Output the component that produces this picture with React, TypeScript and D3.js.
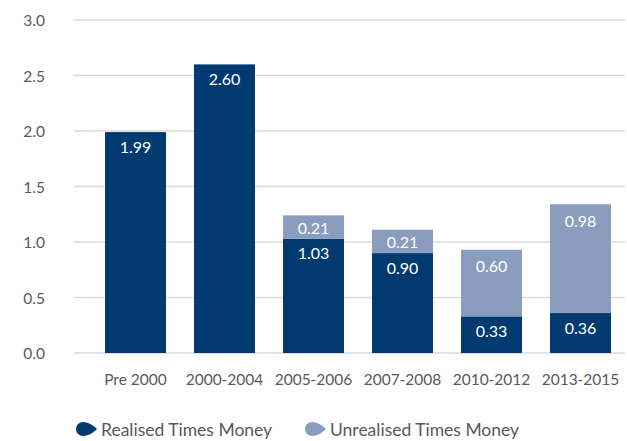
import React from "react";
import * as d3 from "d3";

const categories = ["Pre 2000", "2000-2004", "2005-2006", "2007-2008", "2010-2012", "2013-2015"];
const realised = [1.99, 2.6, 1.03, 0.9, 0.33, 0.36];
const unrealised = [0, 0, 0.21, 0.21, 0.6, 0.98];
const yTicks = [0, 0.5, 1.0, 1.5, 2.0, 2.5, 3.0];
const seriesNames = ["Realised Times Money", "Unrealised Times Money"];

const W = 627;
const H = 441;
const DARK = "#003a70";
const LIGHT = "#8a9dbf";
const FONT = "Lato, 'Open Sans', sans-serif";

export default function App() {
  const y = d3.scaleLinear().domain([0, 3]).range([353, 20]);
  const x = d3.scaleBand().domain(categories).range([91, 625]).paddingInner(0.315).paddingOuter(0.1575);
  const gridX1 = 74;
  const gridX2 = 625;
  const fmt = d3.format(".2f");

  const marker = (cx: number, cy: number, color: string) => {
    const p = `M ${cx - 3} ${cy - 7} C ${cx + 3} ${cy - 7} ${cx + 8} ${cy - 3} ${cx + 11} ${cy} C ${cx + 8} ${cy + 3} ${cx + 3} ${cy + 7} ${cx - 3} ${cy + 7} A 7 7 0 0 1 ${cx - 3} ${cy - 7} Z`;
    return <path d={p} fill={color} />;
  };

  return (
    <svg width={W} height={H} style={{ position: "absolute", left: 0, top: 0, background: "#fff" }} fontFamily={FONT}>
      {yTicks.map((t) => (
        <g key={t}>
          <line x1={gridX1} x2={gridX2} y1={y(t)} y2={y(t)} stroke="#d9d9d9" strokeWidth={1.3} />
          <text x={45} y={y(t)} textAnchor="end" dominantBaseline="central" fontSize={15.5} fill="#595959">
            {d3.format(".1f")(t)}
          </text>
        </g>
      ))}
      {categories.map((c, i) => {
        const bx = x(c)!;
        const bw = x.bandwidth();
        const r = realised[i];
        const u = unrealised[i];
        return (
          <g key={c}>
            <rect x={bx} y={y(r)} width={bw} height={y(0) - y(r)} fill={DARK} />
            {u > 0 && <rect x={bx} y={y(r + u)} width={bw} height={y(r) - y(r + u)} fill={LIGHT} />}
            <text x={bx + bw / 2} y={y(r) + 14} textAnchor="middle" dominantBaseline="central" fontSize={16} fill="#fff">
              {fmt(r)}
            </text>
            {u > 0 && (
              <text x={bx + bw / 2} y={y(r + u) + (u > 0.4 ? 16 : 12)} textAnchor="middle" dominantBaseline="central" fontSize={16} fill="#fff">
                {fmt(u)}
              </text>
            )}
            <text x={bx + bw / 2} y={379} textAnchor="middle" dominantBaseline="central" fontSize={15.5} fill="#595959">
              {c}
            </text>
          </g>
        );
      })}
      <g>
        {marker(86, 429, DARK)}
        <text x={101} y={429} dominantBaseline="central" fontSize={17.5} fill="#595959">{seriesNames[0]}</text>
        {marker(315, 429, LIGHT)}
        <text x={330} y={429} dominantBaseline="central" fontSize={17.5} fill="#595959">{seriesNames[1]}</text>
      </g>
    </svg>
  );
}
